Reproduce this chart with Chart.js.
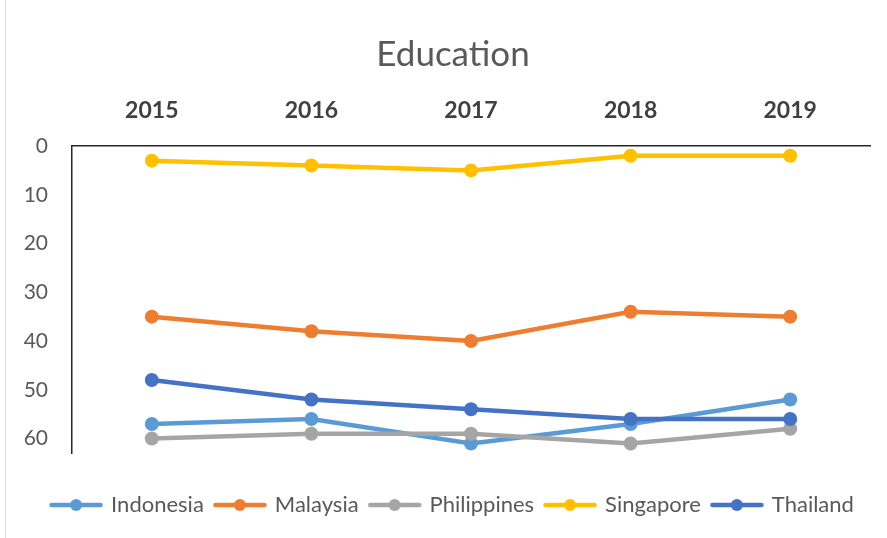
<!DOCTYPE html>
<html>
<head>
<meta charset="utf-8">
<script src="https://cdn.jsdelivr.net/npm/chart.js@4.4.1/dist/chart.umd.min.js"></script>
<style>
  html, body { margin: 0; padding: 0; background: #ffffff; }
  #wrap { position: relative; width: 887px; height: 538px; }
  #edge { position: absolute; left: 5px; top: 0; width: 1px; height: 538px; background: #dcdcdc; }
  canvas { position: absolute; left: 0; top: 0; }
</style>
</head>
<body>
<div id="wrap">
  <canvas id="c" width="887" height="538"></canvas>
  <div id="edge"></div>
</div>
<script>
const title = 'Education';
const years = ['2015', '2016', '2017', '2018', '2019'];
const seriesNames = ['Indonesia', 'Malaysia', 'Philippines', 'Singapore', 'Thailand'];
const indonesia   = [57, 56, 61, 57, 52];
const malaysia    = [35, 38, 40, 34, 35];
const philippines = [60, 59, 59, 61, 58];
const singapore   = [3, 4, 5, 2, 2];
const thailand    = [48, 52, 54, 56, 56];
const yTicks = [0, 10, 20, 30, 40, 50, 60];

const colors = ['#5B9BD5', '#ED7D31', '#A5A5A5', '#FFC000', '#4472C4'];
const values = [indonesia, malaysia, philippines, singapore, thailand];
const FONT = 'Lato, "Open Sans", sans-serif';

function legendMarker(color) {
  const c = document.createElement('canvas');
  c.width = 54; c.height = 14;
  const g = c.getContext('2d');
  g.strokeStyle = color; g.lineWidth = 4.5; g.lineCap = 'round';
  g.beginPath(); g.moveTo(2.5, 7); g.lineTo(51.5, 7); g.stroke();
  g.fillStyle = color;
  g.beginPath(); g.arc(27, 7, 6, 0, Math.PI * 2); g.fill();
  return c;
}
const markers = colors.map(legendMarker);

const datasets = seriesNames.map((name, i) => ({
  label: name,
  data: values[i],
  borderColor: colors[i],
  backgroundColor: colors[i],
  borderWidth: 4.5,
  pointRadius: 7,
  pointHoverRadius: 7,
  pointBorderWidth: 0,
  pointBackgroundColor: colors[i],
  tension: 0,
  order: seriesNames.length - i
}));

// let the y tick labels use the space left of the axis box (no clipping)
const yLabelRoom = {
  id: 'yLabelRoom',
  afterLayout(chart) {
    const y = chart.scales.y;
    y.left = 0;
    y.width = y.right;
  }
};

new Chart(document.getElementById('c'), {
  type: 'line',
  data: { labels: years, datasets: datasets },
  plugins: [yLabelRoom],
  options: {
    responsive: false,
    animation: false,
    layout: { padding: { left: 36, right: 17, top: 0, bottom: 12 } },
    plugins: {
      tooltip: { enabled: false },
      title: {
        display: true,
        text: title,
        color: '#595959',
        font: { family: FONT, size: 35, weight: 'normal', lineHeight: 1.2 },
        padding: { top: 34, bottom: 0 }
      },
      legend: {
        display: true,
        position: 'bottom',
        align: 'center',
        title: { display: true, text: '', padding: 0, font: { size: 24, lineHeight: 1.2 } },
        labels: {
          usePointStyle: true,
          pointStyleWidth: 48,
          padding: 12,
          color: '#595959',
          font: { family: FONT, size: 22 },
          generateLabels: function (chart) {
            return chart.data.datasets.map((ds, i) => ({
              text: ds.label,
              fillStyle: ds.borderColor,
              strokeStyle: ds.borderColor,
              lineWidth: 0,
              pointStyle: markers[i],
              fontColor: '#595959',
              hidden: false,
              datasetIndex: i
            }));
          }
        }
      }
    },
    scales: {
      x: {
        position: 'top',
        offset: true,
        grid: { display: true, drawOnChartArea: false, drawTicks: false, color: 'rgba(0,0,0,0)' },
        border: { display: true, color: '#262626', width: 1.5 },
        ticks: {
          color: '#404040',
          padding: 22,
          font: { family: FONT, size: 23, weight: 'bold' }
        },
        afterFit: function (s) { s.height = 70; }
      },
      y: {
        reverse: true,
        min: 0,
        max: 63,
        grid: { display: true, drawOnChartArea: false, drawTicks: false, color: 'rgba(0,0,0,0)' },
        border: { display: true, color: '#262626', width: 1.5 },
        ticks: {
          stepSize: 10,
          color: '#595959',
          padding: 24,
          font: { family: FONT, size: 21 }
        },
        afterBuildTicks: function (s) {
          s.ticks = yTicks.map(v => ({ value: v }));
        },
        afterFit: function (s) { s.width = 36; }
      }
    }
  }
});
</script>
</body>
</html>
